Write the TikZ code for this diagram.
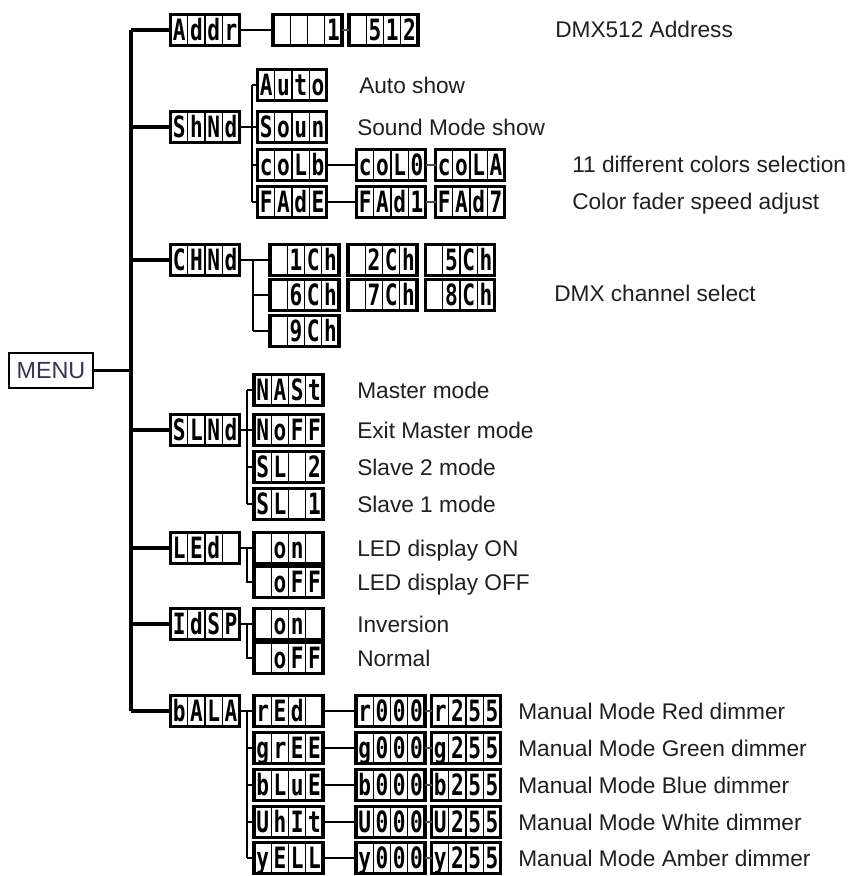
\documentclass[tikz,border=0pt]{standalone}
\usepackage{fontspec}
\setmainfont{Liberation Sans}
\newfontfamily\lcdfam[FakeStretch=0.72]{DejaVu Sans Mono}
\usetikzlibrary{calc}
\newcommand\lcdt[4]{\makebox[12.9375pt]{#1}\makebox[12.9375pt]{#2}\makebox[12.9375pt]{#3}\makebox[12.9375pt]{#4}}
\begin{document}
\begin{tikzpicture}[x=0.75pt,y=-0.75pt,
  lcd/.style={draw, line width=2.5pt, fill=white, minimum width=51.75pt, minimum height=23.25pt,
    inner sep=0pt, outer sep=0pt, text height=15.6pt, text depth=0pt,
    font=\fontsize{22}{22}\selectfont\lcdfam\bfseries,
    path picture={\foreach \i in {1,2,3}{\draw[line width=1pt]
      ($(path picture bounding box.south west)!\i/4!(path picture bounding box.south east)$) --
      ($(path picture bounding box.north west)!\i/4!(path picture bounding box.north east)$);}}},
  desc/.style={anchor=west, inner sep=0pt, text height=12.2pt, text depth=0pt,
    font=\fontsize{17}{20}\selectfont, text=black!88},
  menubox/.style={draw, line width=1.6pt, minimum width=63pt, minimum height=26.5pt, inner sep=0pt,
    font=\fontsize{17.5}{20}\selectfont, text=black!75!blue!60!gray},
  trunk/.style={line width=2.4pt},
  conn/.style={line width=2pt},
  tiny/.style={line width=0.8pt, black!70},
]
\useasboundingbox (0,0) rectangle (850,876);

% ---- MENU and trunk
\node[menubox] (menu) at (51,370.5) {MENU};
\coordinate (trtop) at (131,30);
\coordinate (trbot) at (131,711);

% ---- level 1
\node[lcd] (addr) at (205,30)  {\lcdt{A}{d}{d}{r}};
\node[lcd] (shnd) at (205,127) {\lcdt{S}{h}{N}{d}};
\node[lcd] (chnd) at (205,260) {\lcdt{C}{H}{N}{d}};
\node[lcd] (slnd) at (205,430) {\lcdt{S}{L}{N}{d}};
\node[lcd] (led)  at (205,548) {\lcdt{L}{E}{d}{}};
\node[lcd] (idsp) at (205,624) {\lcdt{I}{d}{S}{P}};
\node[lcd] (bala) at (205,711) {\lcdt{b}{A}{L}{A}};

\draw[trunk] (trtop) -- (trbot);
\draw[trunk] (menu.east) -- (menu.east -| trtop);
\foreach \n in {addr,shnd,chnd,slnd,led,idsp,bala}
  \draw[trunk] (\n.west -| trtop) -- (\n.west);

% ---- Addr row
\node[lcd] (a1) at (307.5,30) {\lcdt{}{}{}{1}};
\node[lcd] (a512) at (383.5,30) {\lcdt{}{5}{1}{2}};
\draw[conn] (addr.east) -- (a1.west);
\draw[tiny] (a1.east) -- (a512.west);
\node[desc] (tAddr) at (555,29) {DMX512 Address};

% ---- ShNd
\node[lcd] (auto) at (292,85)  {\lcdt{A}{u}{t}{o}};
\node[lcd] (soun) at (292,127) {\lcdt{S}{o}{u}{n}};
\node[lcd] (colb) at (292,165) {\lcdt{c}{o}{L}{b}};
\node[lcd] (fade) at (292,202) {\lcdt{F}{A}{d}{E}};
\coordinate (shv) at (252,0);
\draw[conn] (shnd.east) -- (shnd.east -| shv);
\draw[conn] (auto.west -| shv) -- (fade.west -| shv);
\foreach \n in {auto,soun,colb,fade}
  \draw[conn] (\n.west -| shv) -- (\n.west);
\node[lcd] (colo) at (391,165) {\lcdt{c}{o}{L}{0}};
\node[lcd] (cola) at (470,165) {\lcdt{c}{o}{L}{A}};
\node[lcd] (fad1) at (391,202) {\lcdt{F}{A}{d}{1}};
\node[lcd] (fad7) at (470,202) {\lcdt{F}{A}{d}{7}};
\draw[conn] (colb.east) -- (colo.west);
\draw[conn] (fade.east) -- (fad1.west);
\draw[tiny] (colo.east) -- (cola.west);
\draw[tiny] (fad1.east) -- (fad7.west);
\node[desc] (tAuto) at (359,85) {Auto show};
\node[desc] (tSoun) at (357,127) {Sound Mode show};
\node[desc] (tColb) at (572,164) {11 different colors selection};
\node[desc] (tFade) at (572,201) {Color fader speed adjust};

% ---- CHNd
\node[lcd] (c1) at (304.5,260) {\lcdt{}{1}{C}{h}};
\node[lcd] (c2) at (382.5,260) {\lcdt{}{2}{C}{h}};
\node[lcd] (c5) at (460,260)   {\lcdt{}{5}{C}{h}};
\node[lcd] (c6) at (304.5,295) {\lcdt{}{6}{C}{h}};
\node[lcd] (c7) at (382.5,295) {\lcdt{}{7}{C}{h}};
\node[lcd] (c8) at (460,295)   {\lcdt{}{8}{C}{h}};
\node[lcd] (c9) at (304.5,331) {\lcdt{}{9}{C}{h}};
\coordinate (chv) at (253,0);
\draw[conn] (chnd.east) -- (c1.west);
\draw[conn] (c1.west -| chv) -- (c9.west -| chv);
\foreach \n in {c6,c9}
  \draw[conn] (\n.west -| chv) -- (\n.west);
\node[desc] (tCh) at (554,293) {DMX channel select};

% ---- SLNd
\node[lcd] (mast) at (288.5,390) {\lcdt{N}{A}{S}{t}};
\node[lcd] (noff) at (288.5,430) {\lcdt{N}{o}{F}{F}};
\node[lcd] (sl2)  at (288.5,467) {\lcdt{S}{L}{}{2}};
\node[lcd] (sl1)  at (288.5,504) {\lcdt{S}{L}{}{1}};
\coordinate (slv) at (247,0);
\draw[conn] (slnd.east) -- (slnd.east -| slv);
\draw[conn] (mast.west -| slv) -- (sl1.west -| slv);
\foreach \n in {mast,noff,sl2,sl1}
  \draw[conn] (\n.west -| slv) -- (\n.west);
\node[desc] (tMast) at (357,390) {Master mode};
\node[desc] (tNoff) at (357,430) {Exit Master mode};
\node[desc] (tSl2)  at (357,467) {Slave 2 mode};
\node[desc] (tSl1)  at (357,504) {Slave 1 mode};

% ---- LEd
\node[lcd] (lon)  at (288.5,548) {\lcdt{}{o}{n}{}};
\node[lcd] (loff) at (288.5,582) {\lcdt{}{o}{F}{F}};
\draw[conn] (led.east) -- (lon.west);
\draw[conn] (lon.west -| slv) -- (loff.west -| slv) -- (loff.west);
\node[desc] (tLon)  at (357,548) {LED display ON};
\node[desc] (tLoff) at (357,582) {LED display OFF};

% ---- IdSP
\node[lcd] (ion)  at (288.5,624) {\lcdt{}{o}{n}{}};
\node[lcd] (ioff) at (288.5,658) {\lcdt{}{o}{F}{F}};
\draw[conn] (idsp.east) -- (ion.west);
\draw[conn] (ion.west -| slv) -- (ioff.west -| slv) -- (ioff.west);
\node[desc] (tIon)  at (357,624) {Inversion};
\node[desc] (tIoff) at (357,658) {Normal};

% ---- bALA
\node[lcd] (red)  at (288.5,711) {\lcdt{r}{E}{d}{}};
\node[lcd] (gree) at (288.5,748) {\lcdt{g}{r}{E}{E}};
\node[lcd] (blue) at (288.5,785) {\lcdt{b}{L}{u}{E}};
\node[lcd] (whit) at (288.5,822) {\lcdt{U}{h}{I}{t}};
\node[lcd] (yell) at (288.5,858) {\lcdt{y}{E}{L}{L}};
\draw[conn] (bala.east) -- (red.west);
\draw[conn] (red.west -| slv) -- (yell.west -| slv);
\foreach \n in {gree,blue,whit,yell}
  \draw[conn] (\n.west -| slv) -- (\n.west);

\node[lcd] (r0)  at (390.5,711) {\lcdt{r}{0}{0}{0}};
\node[lcd] (r2)  at (466,711)   {\lcdt{r}{2}{5}{5}};
\node[lcd] (g0)  at (390.5,748) {\lcdt{g}{0}{0}{0}};
\node[lcd] (g2)  at (466,748)   {\lcdt{g}{2}{5}{5}};
\node[lcd] (b0)  at (390.5,785) {\lcdt{b}{0}{0}{0}};
\node[lcd] (b2)  at (466,785)   {\lcdt{b}{2}{5}{5}};
\node[lcd] (w0)  at (390.5,822) {\lcdt{U}{0}{0}{0}};
\node[lcd] (w2)  at (466,822)   {\lcdt{U}{2}{5}{5}};
\node[lcd] (y0)  at (390.5,858) {\lcdt{y}{0}{0}{0}};
\node[lcd] (y2)  at (466,858)   {\lcdt{y}{2}{5}{5}};
\foreach \a/\b/\c in {red/r0/r2,gree/g0/g2,blue/b0/b2,whit/w0/w2,yell/y0/y2}{
  \draw[conn] (\a.east) -- (\b.west);
  \draw[tiny] (\b.east) -- (\c.west);
}
\node[desc] (tRed)  at (518,711) {Manual Mode Red dimmer};
\node[desc] (tGre)  at (518,748) {Manual Mode Green dimmer};
\node[desc] (tBlu)  at (518,785) {Manual Mode Blue dimmer};
\node[desc] (tWhi)  at (518,822) {Manual Mode White dimmer};
\node[desc] (tYel)  at (518,858) {Manual Mode Amber dimmer};
\end{tikzpicture}
\end{document}
